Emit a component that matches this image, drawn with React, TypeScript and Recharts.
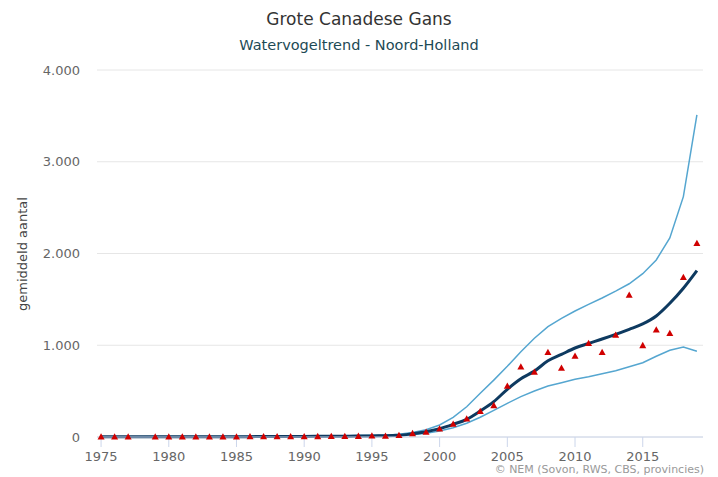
import React from "react";
import { ComposedChart, Line, Scatter, XAxis, YAxis, CartesianGrid } from "recharts";

const years = [
  1975, 1976, 1977, 1978, 1979, 1980, 1981, 1982, 1983, 1984, 1985, 1986, 1987, 1988, 1989,
  1990, 1991, 1992, 1993, 1994, 1995, 1996, 1997, 1998, 1999, 2000, 2001, 2002, 2003, 2004,
  2005, 2006, 2007, 2008, 2009, 2010, 2011, 2012, 2013, 2014, 2015, 2016, 2017, 2018, 2019,
];
const observed: (number | null)[] = [
  2, 2, 2, null, 3, 3, 3, 4, 4, 4, 4, 5, 5, 5, 6,
  6, 7, 8, 9, 10, 14, 12, 20, 40, 55, 90, 142, 200, 280, 345,
  556, 766, 708, 923, 752, 883, 1021, 923, 1112, 1548, 999, 1170, 1130, 1741, 2111,
];
const trend = [
  2, 2, 2, 2, 3, 3, 3, 3, 4, 4, 4, 4, 5, 5, 5,
  6, 7, 8, 9, 10, 12, 13, 18, 36, 58, 91, 138, 193, 283, 385,
  520, 635, 718, 830, 900, 970, 1020, 1068, 1119, 1174, 1232, 1319, 1457, 1621, 1813,
];
const upper = [
  4, 4, 4, 4, 5, 5, 5, 5, 6, 6, 6, 7, 7, 8, 8,
  9, 10, 11, 13, 15, 18, 20, 30, 50, 80, 131, 214, 330, 476, 620,
  770, 930, 1076, 1202, 1293, 1373, 1446, 1515, 1590, 1670, 1780, 1930, 2170, 2620, 3510,
];
const lower = [
  1, 1, 1, 1, 1, 1, 2, 2, 2, 2, 2, 3, 3, 3, 3,
  4, 4, 5, 5, 6, 8, 8, 12, 25, 42, 66, 100, 150, 215, 290,
  367, 440, 501, 556, 592, 629, 657, 690, 723, 766, 810, 880, 945, 980, 935,
];
const xTicks = [1975, 1980, 1985, 1990, 1995, 2000, 2005, 2010, 2015];
const yTicks = [0, 1000, 2000, 3000, 4000];

const data = years.map((y, i) => ({
  year: y,
  observed: observed[i],
  trend: trend[i],
  upper: upper[i],
  lower: lower[i],
}));

const FONT = '"DejaVu Sans", Verdana, sans-serif';

const fmt = (v: number) => (v === 0 ? "0" : v.toLocaleString("de-DE"));

const Triangle = (props: any) => {
  const { cx, cy } = props;
  if (cx == null || cy == null || props.payload?.observed == null) return <g />;
  const s = 3.5;
  return (
    <polygon
      points={`${cx},${cy - s} ${cx - s},${cy + s * 0.8} ${cx + s},${cy + s * 0.8}`}
      fill="#d00000"
    />
  );
};

export default function App() {
  return (
    <div
      style={{
        position: "absolute",
        left: 0,
        top: 0,
        width: 718,
        height: 477,
        background: "#fff",
        fontFamily: FONT,
      }}
    >
      <div
        style={{
          position: "absolute",
          top: 9,
          left: 0,
          width: 718,
          textAlign: "center",
          fontSize: 17,
          color: "#333",
        }}
      >
        Grote Canadese Gans
      </div>
      <div
        style={{
          position: "absolute",
          top: 37,
          left: 0,
          width: 718,
          textAlign: "center",
          fontSize: 14.5,
          color: "#1d4a55",
        }}
      >
        Watervogeltrend - Noord-Holland
      </div>
      <div
        style={{
          position: "absolute",
          left: 22,
          top: 254,
          transform: "translate(-50%, -50%) rotate(-90deg)",
          whiteSpace: "nowrap",
          fontSize: 13,
          color: "#444",
        }}
      >
        gemiddeld aantal
      </div>
      <div
        style={{
          position: "absolute",
          right: 14,
          top: 463,
          fontSize: 11,
          color: "#999",
        }}
      >
        © NEM (Sovon, RWS, CBS, provincies)
      </div>
      <ComposedChart
        width={718}
        height={477}
        data={data}
        margin={{ top: 70, right: 15, bottom: 10, left: 0 }}
        style={{ position: "absolute", left: 0, top: 0 }}
      >
        <CartesianGrid vertical={false} stroke="#e6e6e6" />
        <XAxis
          dataKey="year"
          type="number"
          domain={[1974.7, 2019.45]}
          ticks={xTicks}
          height={30}
          tickSize={10}
          tickMargin={5}
          stroke="#ccd6eb"
          tickLine={{ stroke: "#ccd6eb" }}
          tick={{ fill: "#666", fontSize: 13, fontFamily: FONT }}
          allowDataOverflow
        />
        <YAxis
          type="number"
          domain={[0, 4000]}
          ticks={yTicks}
          width={97}
          axisLine={false}
          tickLine={false}
          tickSize={0}
          tickMargin={17}
          tickFormatter={fmt}
          tick={{ fill: "#666", fontSize: 13, fontFamily: FONT }}
        />
        <Line
          dataKey="upper"
          type="linear"
          stroke="#55a6d0"
          strokeWidth={1.5}
          dot={false}
          isAnimationActive={false}
        />
        <Line
          dataKey="lower"
          type="linear"
          stroke="#55a6d0"
          strokeWidth={1.5}
          dot={false}
          isAnimationActive={false}
        />
        <Line
          dataKey="trend"
          type="monotone"
          stroke="#0e3a60"
          strokeWidth={3}
          dot={false}
          isAnimationActive={false}
        />
        <Scatter dataKey="observed" shape={<Triangle />} isAnimationActive={false} />
      </ComposedChart>
    </div>
  );
}
